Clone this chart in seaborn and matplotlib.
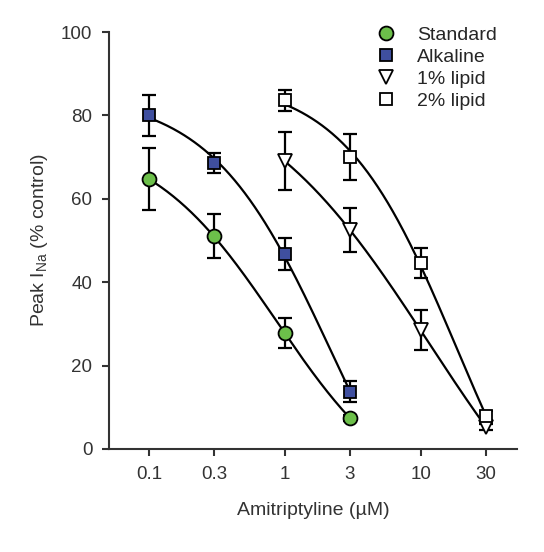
import matplotlib
matplotlib.use('Agg')
import matplotlib.pyplot as plt
import seaborn as sns
import numpy as np

# concentrations (uM)
conc_std = [0.1, 0.3, 1, 3]
conc_alk = [0.1, 0.3, 1, 3]
conc_lip1 = [1, 3, 10, 30]
conc_lip2 = [1, 3, 10, 30]

# peak INa (% control) and SEM
std_mean = [64.7, 51.0, 27.8, 7.4]
std_err = [7.5, 5.3, 3.6, 0.8]
alk_mean = [80.0, 68.6, 46.8, 13.7]
alk_err = [5.0, 2.5, 3.8, 2.5]
lip1_mean = [69.0, 52.5, 28.5, 5.3]
lip1_err = [7.0, 5.2, 4.8, 0.8]
lip2_mean = [83.6, 70.0, 44.6, 8.0]
lip2_err = [2.5, 5.5, 3.6, 1.0]

tick_vals = [0.1, 0.3, 1, 3, 10, 30]
tick_labels = ['0.1', '0.3', '1', '3', '10', '30']


def hill_fit(x, y):
    # 4-parameter logistic fit, grid over slope and IC50,
    # bottom/top solved by linear least squares
    x = np.asarray(x, float)
    y = np.asarray(y, float)
    best = None
    for n in np.linspace(0.4, 3, 131):
        for lic in np.linspace(-2, 2.5, 226):
            f = 1.0 / (1.0 + (x / 10 ** lic) ** n)
            A = np.column_stack([np.ones_like(f), f])
            (b, s), *_ = np.linalg.lstsq(A, y, rcond=None)
            if b < -40 or b > 10 or b + s > 110:
                continue
            sse = ((A @ [b, s] - y) ** 2).sum()
            if best is None or sse < best[0]:
                best = (sse, b, s, 10 ** lic, n)
    return best[1:]


sns.set_style('ticks')
plt.rcParams['font.family'] = ['Liberation Sans', 'DejaVu Sans']
plt.rcParams['mathtext.fontset'] = 'custom'
plt.rcParams['mathtext.rm'] = 'Liberation Sans'
plt.rcParams['mathtext.it'] = 'Liberation Sans'

fig = plt.figure(figsize=(5.44, 5.52), dpi=100)
ax = fig.add_axes([0.2004, 0.1866, 0.7496, 0.7554])

series = [
    ('Standard', conc_std, std_mean, std_err, 'o', '#6cbf4a', 10),
    ('Alkaline', conc_alk, alk_mean, alk_err, 's', '#3f4f9f', 9),
    ('1% lipid', conc_lip1, lip1_mean, lip1_err, 'v', 'white', 10),
    ('2% lipid', conc_lip2, lip2_mean, lip2_err, 's', 'white', 9),
]

for name, xv, yv, ev, mk, fc, ms in series:
    bot, span, ic, n = hill_fit(xv, yv)
    xs = np.logspace(np.log10(xv[0]), np.log10(xv[-1]), 200)
    ys = bot + span / (1 + (xs / ic) ** n)
    sns.lineplot(x=xs, y=ys, color='black', lw=1.6, ax=ax, zorder=2)
    ax.errorbar(xv, yv, yerr=ev, fmt='none', ecolor='black', elinewidth=1.6,
                capsize=5, capthick=1.6, zorder=1)
    ax.plot(xv, yv, linestyle='none', marker=mk, markersize=ms,
            markerfacecolor=fc, markeredgecolor='black', markeredgewidth=1.3,
            label=name, zorder=3)

ax.set_xscale('log')
ax.set_xlim(0.0508, 50.8)
ax.set_ylim(0, 100)
ax.set_xticks(tick_vals)
ax.set_xticklabels(tick_labels)
ax.xaxis.set_minor_locator(matplotlib.ticker.NullLocator())
ax.set_yticks([0, 20, 40, 60, 80, 100])
ax.tick_params(axis='both', labelsize=13.5, length=5, width=1.5, color='#333333',
               labelcolor='#333333', pad=7)
for s in ['left', 'bottom']:
    ax.spines[s].set_linewidth(1.5)
    ax.spines[s].set_color('#333333')
sns.despine(ax=ax)

ax.set_xlabel('Amitriptyline (µM)', fontsize=14, labelpad=14, color='#333333')
ax.set_ylabel('Peak I$_{\\mathrm{Na}}$ (% control)', fontsize=14, labelpad=8,
              color='#333333')

ax.legend(loc='upper right', bbox_to_anchor=(0.971, 1.032), frameon=False,
          fontsize=14, handletextpad=1.1, labelspacing=0.22, borderaxespad=0,
          handlelength=1.0)

plt.savefig('out.png', dpi=100)
